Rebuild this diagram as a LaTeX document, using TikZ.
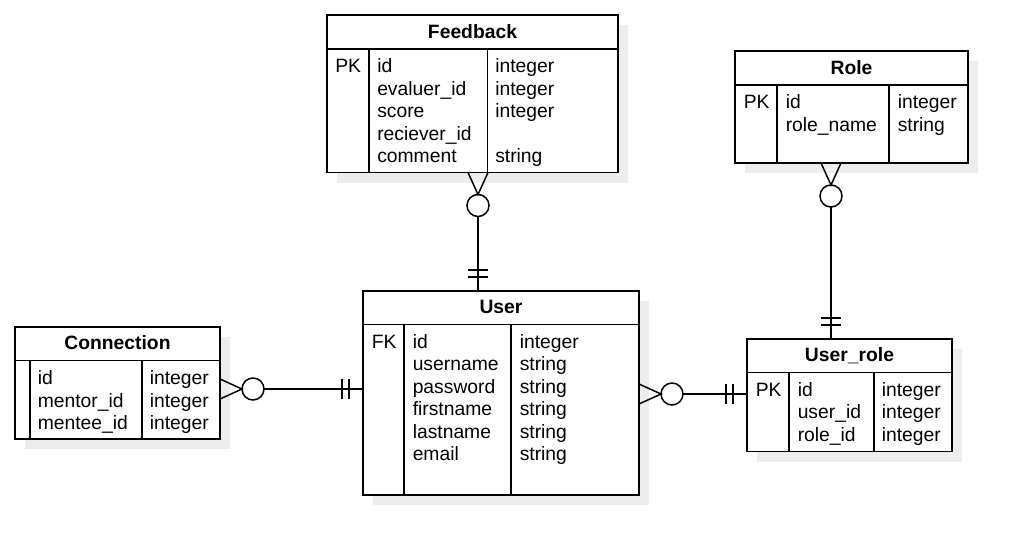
\documentclass[tikz,border=0pt]{standalone}
\usepackage{fontspec}
\setmainfont{Liberation Sans}
\usetikzlibrary{shadows}

\begin{document}
\begin{tikzpicture}[x=1pt, y=-1pt, line width=1.5pt,
  entity/.style={draw, rectangle, inner sep=0pt, outer sep=0pt, anchor=north west, fill=white,
    drop shadow={shadow xshift=10pt, shadow yshift=-10pt, fill=black!7, opacity=1}},
  title/.style={font=\fontsize{19.3}{22.5}\selectfont\bfseries, anchor=base, inner sep=0pt},
  cell/.style={font=\fontsize{19.3}{22.5}\selectfont, align=left, anchor=north west, inner sep=0pt},
  crow/.pic={\draw (0,-10) -- (22,0) -- (0,10); \draw (33,0) circle[radius=11pt];},
  bar/.pic={\draw (14,-10) -- (14,10) (21,-10) -- (21,10);}]
  \useasboundingbox (0,0) rectangle (1027,555);

  % Feedback
  \node[entity, minimum width=291pt, minimum height=157.5pt] (fb) at (327,15) {};
  \draw (327,49) -- (618,49) (369,49) -- (369,172.5) (487.5,49) -- (487.5,172.5);
  \node[title] (fb-t) at (472.5,38) {Feedback};
  \node[cell] (fb-k) at (334.5,56.25) {\strut PK};
  \node[cell] (fb-n) at (376.5,56.25) {\strut id\\evaluer\_id\\score\\reciever\_id\\comment};
  \node[cell] (fb-y) at (494.5,56.25) {\strut integer\\integer\\integer\\\strut\\string};

  % Role
  \node[entity, minimum width=233pt, minimum height=112pt] (role) at (735,51) {};
  \draw (735,85) -- (968,85) (777,85) -- (777,163) (889,85) -- (889,163);
  \node[title] (role-t) at (851.5,74) {Role};
  \node[cell] (role-k) at (743,92.25) {\strut PK};
  \node[cell] (role-n) at (785,92.25) {\strut id\\role\_name};
  \node[cell] (role-y) at (897,92.25) {\strut integer\\string};

  % User
  \node[entity, minimum width=276pt, minimum height=204pt] (user) at (363,291) {};
  \draw (363,324.5) -- (639,324.5) (404,324.5) -- (404,495) (511,324.5) -- (511,495);
  \node[title] (user-t) at (501,313.5) {User};
  \node[cell] (user-k) at (371,331.5) {\strut FK};
  \node[cell] (user-n) at (412,331.5) {\strut id\\username\\password\\firstname\\lastname\\email};
  \node[cell] (user-y) at (519,331.5) {\strut integer\\string\\string\\string\\string\\string};

  % Connection
  \node[entity, minimum width=205pt, minimum height=112pt] (conn) at (15,327) {};
  \draw (15,360.7) -- (220,360.7) (30,360.7) -- (30,439) (142,360.7) -- (142,439);
  \node[title] (conn-t) at (117.5,349.5) {Connection};
  \node[cell] (conn-n) at (37,368.25) {\strut id\\mentor\_id\\mentee\_id};
  \node[cell] (conn-y) at (149,368.25) {\strut integer\\integer\\integer};

  % User_role
  \node[entity, minimum width=205pt, minimum height=112.5pt] (ur) at (747,339) {};
  \draw (747,372.5) -- (952,372.5) (789,372.5) -- (789,451.5) (874,372.5) -- (874,451.5);
  \node[title] (ur-t) at (849.5,361.5) {User\_role};
  \node[cell] (ur-k) at (755,379.75) {\strut PK};
  \node[cell] (ur-n) at (797,379.75) {\strut id\\user\_id\\role\_id};
  \node[cell] (ur-y) at (881,379.75) {\strut integer\\integer\\integer};

  % relations
  \draw[shorten <=44pt] (fb.south -| 478,0) -- (user.north -| 478,0);
  \pic[rotate=-90] at (fb.south -| 478,0) {crow};
  \pic[rotate=90] at (user.north -| 478,0) {bar};

  \draw[shorten <=44pt] (role.south -| 831,0) -- (ur.north -| 831,0);
  \pic[rotate=-90] at (role.south -| 831,0) {crow};
  \pic[rotate=90] at (ur.north -| 831,0) {bar};

  \draw[shorten <=44pt] (conn.east |- 0,389) -- (user.west |- 0,389);
  \pic at (conn.east |- 0,389) {crow};
  \pic[rotate=180] at (user.west |- 0,389) {bar};

  \draw[shorten <=44pt] (user.east |- 0,394) -- (ur.west |- 0,394);
  \pic at (user.east |- 0,394) {crow};
  \pic[rotate=180] at (ur.west |- 0,394) {bar};
\end{tikzpicture}
\end{document}
